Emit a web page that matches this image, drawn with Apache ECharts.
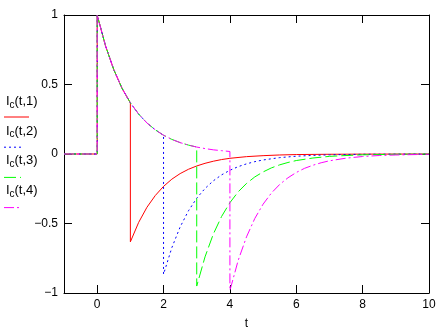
<!DOCTYPE html>
<html>
<head>
<meta charset="utf-8">
<script src="https://cdn.jsdelivr.net/npm/echarts@6/dist/echarts.min.js"></script>
<style>
  html, body { margin: 0; padding: 0; background: #fff; }
</style>
</head>
<body>
<div id="chart" style="width:445px;height:335px"></div>
<script>
// common rise + decay (shared by all four traces until they switch)
var tHead = [-1, 0, 0, 0.25, 0.5, 0.75, 1, 1.25, 1.5, 1.75, 2, 2.25, 2.5, 2.75, 3, 3.25, 3.5, 3.75, 4]
var icHead = [0, 0, 1, 0.779, 0.607, 0.472, 0.368, 0.287, 0.223, 0.174, 0.135, 0.105, 0.082, 0.064, 0.050, 0.039, 0.030, 0.024, 0.018]

// tails after the switch
var tTail1 = [1, 1.25, 1.5, 1.75, 2, 2.25, 2.5, 2.75, 3, 3.25, 3.5, 3.75, 4, 4.5, 5, 5.5, 6, 7, 8, 10]
var icTail1 = [-0.632, -0.492, -0.383, -0.299, -0.233, -0.181, -0.141, -0.110, -0.086, -0.067, -0.052, -0.040, -0.031, -0.019, -0.012, -0.007, -0.004, -0.002, -0.001, 0]
var tTail2 = [2, 2.25, 2.5, 2.75, 3, 3.25, 3.5, 3.75, 4, 4.25, 4.5, 4.75, 5, 5.5, 6, 6.5, 7, 8, 9, 10]
var icTail2 = [-0.865, -0.674, -0.525, -0.409, -0.318, -0.248, -0.193, -0.150, -0.117, -0.091, -0.071, -0.055, -0.043, -0.026, -0.016, -0.010, -0.006, -0.002, -0.001, 0]
var tTail3 = [3, 3.25, 3.5, 3.75, 4, 4.25, 4.5, 4.75, 5, 5.25, 5.5, 5.75, 6, 6.5, 7, 7.5, 8, 9, 10]
var icTail3 = [-0.950, -0.740, -0.576, -0.449, -0.350, -0.272, -0.212, -0.165, -0.129, -0.100, -0.078, -0.061, -0.047, -0.029, -0.017, -0.011, -0.006, -0.002, -0.001]
var tTail4 = [4, 4.25, 4.5, 4.75, 5, 5.25, 5.5, 5.75, 6, 6.25, 6.5, 6.75, 7, 7.5, 8, 8.5, 9, 10]
var icTail4 = [-0.982, -0.765, -0.596, -0.464, -0.361, -0.281, -0.219, -0.171, -0.133, -0.103, -0.081, -0.063, -0.049, -0.030, -0.018, -0.011, -0.007, -0.002]

var switchT = [1, 2, 3, 4]
var xTicks = [0, 2, 4, 6, 8, 10]
var names = ['1', '2', '3', '4']
var colors = ['#ff0000', '#0000ff', '#00ff00', '#ff00ff']
var dashes = ['solid', [2, 3], [12, 4], [10, 3, 2, 3]]

var tails = [[tTail1, icTail1], [tTail2, icTail2], [tTail3, icTail3], [tTail4, icTail4]]

function traceData (k) {
  var pts = []
  for (var i = 0; i < tHead.length; i++) {
    if (tHead[i] <= switchT[k]) pts.push([tHead[i], icHead[i]])
  }
  var tt = tails[k][0]
  var vv = tails[k][1]
  for (var j = 0; j < tt.length; j++) pts.push([tt[j], vv[j]])
  return pts
}

var font = '"Liberation Sans", Arial, sans-serif'
var minus = function (v) { return String(v).replace('-', '\u2212') }

var series = names.map(function (n, k) {
  return {
    name: 'Ic(t,' + n + ')',
    type: 'line',
    data: traceData(k),
    showSymbol: false,
    animation: false,
    lineStyle: { color: colors[k], width: 1, type: dashes[k] },
    z: 2 + k
  }
})

// legend drawn like the original: label above a short line sample
var graphic = []
var legendLineEnd = [29, 24, 21, 21]
names.forEach(function (n, k) {
  var ty = 95 + k * 29.7
  var ly = 117 + k * 30.2
  graphic.push({ type: 'text', x: 6, y: ty, style: { text: 'I', font: '13px ' + font, fill: '#000' } })
  graphic.push({ type: 'text', x: 9.5, y: ty + 5, style: { text: 'c', font: '10px ' + font, fill: '#000' } })
  graphic.push({ type: 'text', x: 14.5, y: ty, style: { text: '(t,' + n + ')', font: '13px ' + font, fill: '#000' } })
  graphic.push({
    type: 'line',
    shape: { x1: 4, y1: ly, x2: legendLineEnd[k], y2: ly },
    style: { stroke: colors[k], lineWidth: 1, lineDash: dashes[k] === 'solid' ? null : dashes[k] }
  })
})

var tickStyle = { show: true, inside: true, length: 8, lineStyle: { color: '#000', width: 1 } }
var lineStyle = { show: true, onZero: false, lineStyle: { color: '#000', width: 1 } }

var option = {
  animation: false,
  grid: { left: 64, right: 16, top: 15, bottom: 40 },
  xAxis: [{
    type: 'value',
    min: -1,
    max: 10,
    position: 'bottom',
    name: 't',
    nameLocation: 'middle',
    nameGap: 25,
    nameTextStyle: { color: '#000', fontSize: 12, fontFamily: font },
    axisLine: lineStyle,
    axisTick: Object.assign({ customValues: xTicks }, tickStyle),
    axisLabel: { customValues: xTicks, color: '#000', fontSize: 12, fontFamily: font, margin: 6 },
    splitLine: { show: false }
  }, {
    type: 'value',
    min: -1,
    max: 10,
    position: 'top',
    axisLine: lineStyle,
    axisTick: Object.assign({ customValues: xTicks }, tickStyle),
    axisLabel: { show: false },
    splitLine: { show: false }
  }],
  yAxis: [{
    type: 'value',
    min: -1,
    max: 1,
    interval: 0.5,
    position: 'left',
    axisLine: lineStyle,
    axisTick: tickStyle,
    axisLabel: { color: '#000', fontSize: 12, fontFamily: font, margin: 6, formatter: minus },
    splitLine: { show: false }
  }, {
    type: 'value',
    min: -1,
    max: 1,
    interval: 0.5,
    position: 'right',
    axisLine: lineStyle,
    axisTick: tickStyle,
    axisLabel: { show: false },
    splitLine: { show: false }
  }],
  graphic: graphic,
  series: series
}

var myChart = echarts.init(document.getElementById('chart'))
myChart.setOption(option, true)
window.addEventListener('resize', function () {
  myChart.resize()
})
</script>
</body>
</html>
